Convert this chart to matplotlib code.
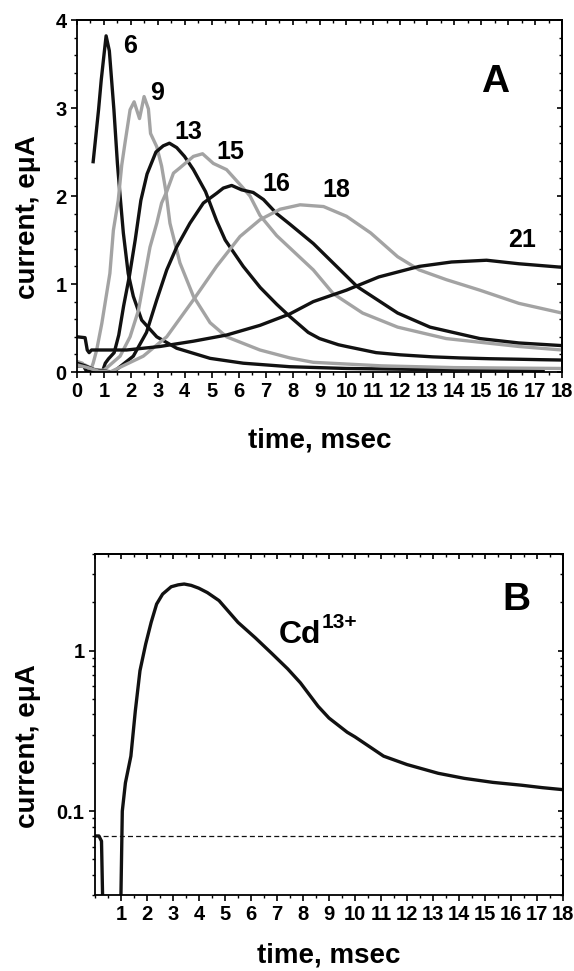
import matplotlib
matplotlib.use("Agg")
import matplotlib.pyplot as plt
from matplotlib.ticker import MultipleLocator, FixedLocator, NullFormatter, LogLocator, FixedFormatter

plt.rcParams['font.family'] = ['Liberation Sans', 'DejaVu Sans']
plt.rcParams['font.weight'] = 'bold'

# ---- data (time in msec, current in e-microamps) ----
t6 = [0.6, 0.8, 0.9, 1.0, 1.08, 1.2, 1.37, 1.5, 1.6, 1.72, 1.9, 2.09, 2.4, 2.96, 3.7, 4.94, 6.17, 7.9, 10.0, 12.5, 15.0, 17.3]
i6 = [2.39, 2.98, 3.32, 3.6, 3.82, 3.65, 2.98, 2.37, 2.0, 1.58, 1.12, 0.86, 0.59, 0.40, 0.27, 0.155, 0.10, 0.06, 0.04, 0.03, 0.025, 0.02]

t9 = [0.0, 0.2, 0.35, 0.48, 0.6, 0.73, 0.92, 1.22, 1.35, 1.53, 1.66, 1.78, 1.97, 2.12, 2.32, 2.49, 2.65, 2.73, 2.96, 3.14, 3.3, 3.45, 3.82, 4.32, 4.94, 5.55, 6.79, 7.9, 8.77, 11.3, 14.0, 18.0]
i9 = [0.12, 0.10, 0.04, 0.0, 0.10, 0.25, 0.55, 1.12, 1.61, 1.95, 2.35, 2.6, 2.98, 3.07, 2.88, 3.13, 2.99, 2.71, 2.56, 2.34, 2.05, 1.69, 1.24, 0.86, 0.56, 0.40, 0.25, 0.16, 0.11, 0.07, 0.05, 0.04]

t13 = [0.0, 0.15, 0.25, 0.35, 0.5, 0.7, 0.95, 1.05, 1.17, 1.38, 1.55, 1.73, 1.95, 2.16, 2.37, 2.6, 2.93, 3.2, 3.43, 3.7, 3.99, 4.32, 4.77, 5.18, 5.5, 6.17, 6.8, 7.41, 7.9, 8.58, 9.0, 9.7, 10.0, 11.1, 12.0, 13.2, 14.2, 15.3, 16.4, 17.2, 18.0]
i13 = [0.07, 0.07, 0.065, 0.01, 0.005, 0.005, 0.01, 0.10, 0.15, 0.22, 0.42, 0.75, 1.1, 1.5, 1.95, 2.25, 2.5, 2.57, 2.6, 2.55, 2.45, 2.3, 2.05, 1.72, 1.5, 1.2, 0.96, 0.77, 0.63, 0.45, 0.38, 0.31, 0.29, 0.22, 0.195, 0.172, 0.16, 0.151, 0.145, 0.14, 0.136]

t15 = [0.0, 0.3, 0.6, 1.0, 1.6, 1.97, 2.28, 2.53, 2.71, 2.96, 3.14, 3.33, 3.58, 3.82, 4.32, 4.66, 5.06, 5.55, 6.11, 6.42, 6.79, 7.41, 8.77, 9.51, 10.6, 11.9, 13.7, 16.4, 18.0]
i15 = [0.10, 0.08, 0.03, 0.02, 0.18, 0.40, 0.70, 1.12, 1.42, 1.69, 1.92, 2.05, 2.26, 2.32, 2.45, 2.48, 2.37, 2.30, 2.11, 2.0, 1.78, 1.55, 1.16, 0.89, 0.67, 0.51, 0.38, 0.29, 0.25]

t16 = [0.0, 0.3, 0.7, 1.35, 2.09, 2.58, 2.96, 3.33, 3.70, 4.19, 4.69, 5.18, 5.43, 5.74, 6.11, 6.54, 6.92, 7.41, 7.9, 8.77, 10.4, 11.9, 13.1, 14.95, 16.4, 18.0]
i16 = [0.10, 0.07, 0.02, 0.0, 0.18, 0.45, 0.82, 1.16, 1.42, 1.69, 1.92, 2.03, 2.09, 2.12, 2.07, 2.04, 1.96, 1.80, 1.68, 1.46, 0.97, 0.67, 0.51, 0.38, 0.33, 0.30]

t18 = [0.0, 0.4, 0.8, 1.23, 2.46, 3.33, 4.32, 5.18, 6.05, 6.79, 7.54, 8.28, 9.15, 10.0, 10.9, 11.9, 12.7, 13.7, 14.95, 16.4, 18.0]
i18 = [0.08, 0.05, 0.01, 0.0, 0.18, 0.40, 0.82, 1.20, 1.54, 1.73, 1.85, 1.90, 1.88, 1.77, 1.58, 1.31, 1.16, 1.05, 0.93, 0.78, 0.67]

t21 = [0.0, 0.3, 0.38, 0.45, 0.54, 1.84, 3.08, 4.32, 5.55, 6.79, 7.9, 8.77, 10.0, 11.2, 12.7, 13.9, 15.2, 16.4, 18.0]
i21 = [0.40, 0.39, 0.25, 0.22, 0.25, 0.25, 0.29, 0.35, 0.42, 0.53, 0.66, 0.80, 0.93, 1.08, 1.20, 1.25, 1.27, 1.23, 1.19]

charge_labels = ["6", "9", "13", "15", "16", "18", "21"]
label_pos = [(1.97, 3.70), (2.96, 3.17), (4.13, 2.73), (5.68, 2.50), (7.4, 2.14), (9.64, 2.07), (16.5, 1.5)]

baseline_B = 0.07

xticks_A = list(range(0, 19))
xticks_B = list(range(1, 19))

BLACK = '#111111'
GRAY = '#a3a3a3'
LW = 2.4

fig = plt.figure(figsize=(5.74, 9.71), dpi=100)
axA = fig.add_axes([77/574, 1-372/971, (562-77)/574, (372-20)/971])
axB = fig.add_axes([95/574, 1-895/971, (563-95)/574, (895-554)/971])

series = [(t6, i6, BLACK), (t9, i9, GRAY), (t13, i13, BLACK), (t15, i15, GRAY),
          (t16, i16, BLACK), (t18, i18, GRAY), (t21, i21, BLACK)]
for t, i, c in series:
    axA.plot(t, i, color=c, lw=LW, solid_joinstyle='round')

for lab, (x, y) in zip(charge_labels, label_pos):
    axA.text(x, y, lab, fontsize=18, fontweight='bold', ha='center', va='center')
axA.text(15.5, 3.30, "A", fontsize=28, fontweight='bold', ha='center', va='center')

axA.set_xlim(0, 18)
axA.set_ylim(0, 4)
axA.xaxis.set_major_locator(FixedLocator(xticks_A))
axA.xaxis.set_minor_locator(MultipleLocator(0.5))
axA.yaxis.set_major_locator(MultipleLocator(1))
axA.yaxis.set_minor_locator(MultipleLocator(0.2))

# panel B
axB.plot(t13, i13, color=BLACK, lw=LW, solid_joinstyle='round')
axB.axhline(baseline_B, color=BLACK, lw=0.9, ls=(0, (4, 2.5)))
axB.set_yscale('log')
axB.set_xlim(0, 18)
axB.set_ylim(0.03, 4)
axB.xaxis.set_major_locator(FixedLocator(xticks_B))
axB.xaxis.set_minor_locator(MultipleLocator(0.5))
axB.yaxis.set_major_locator(FixedLocator([0.1, 1]))
axB.yaxis.set_major_formatter(FixedFormatter(["0.1", "1"]))
axB.yaxis.set_minor_locator(LogLocator(base=10, subs=range(2, 10)))
axB.yaxis.set_minor_formatter(NullFormatter())
axB.text(16.2, 2.07, "B", fontsize=28, fontweight='bold', ha='center', va='center')
cd = axB.text(7.9, 1.25, "Cd", fontsize=23, fontweight='bold', ha='center', va='center')
axB.annotate("13+", xy=(1.0, 0.92), xycoords=cd, fontsize=15, fontweight='bold',
             ha='left', va='center')

for ax, ylab_y, xlab_y, ylab_x in [(axA, 0.44, -0.196, -0.101), (axB, 0.437, -0.176, -0.143)]:
    for sp in ax.spines.values():
        sp.set_linewidth(1.3)
    ax.tick_params(axis='both', which='major', direction='out', length=4.5, width=1.2,
                   labelsize=14.5, top=False, right=False, pad=3)
    ax.tick_params(axis='both', which='minor', direction='out', length=2.5, width=1.0,
                   top=False, right=False)
    for lab in ax.get_xticklabels() + ax.get_yticklabels():
        lab.set_fontweight('bold')
    ax.set_xlabel("time, msec", fontsize=20, fontweight='bold')
    ax.set_ylabel("current, eμA", fontsize=20, fontweight='bold')
    ax.xaxis.label.set_va('center')
    ax.yaxis.label.set_va('center')
    ax.xaxis.set_label_coords(0.5, xlab_y)
    ax.yaxis.set_label_coords(ylab_x, ylab_y)

    sx = ax.secondary_xaxis('top')
    sx.xaxis.set_major_locator(MultipleLocator(1))
    sx.xaxis.set_minor_locator(MultipleLocator(0.5))
    sx.tick_params(axis='x', which='major', direction='in', length=3.5, width=1.2, labeltop=False)
    sx.tick_params(axis='x', which='minor', direction='in', length=2.2, width=1.0)
    sx.xaxis.set_major_formatter(NullFormatter())

    sy = ax.secondary_yaxis('right')
    sy.tick_params(axis='y', which='major', direction='in', length=3.5, width=1.2, labelright=False)
    sy.tick_params(axis='y', which='minor', direction='in', length=2.2, width=1.0)
    sy.yaxis.set_major_formatter(NullFormatter())
    sy.yaxis.set_minor_formatter(NullFormatter())
    if ax is axA:
        sy.yaxis.set_major_locator(MultipleLocator(1))
        sy.yaxis.set_minor_locator(MultipleLocator(0.2))
    else:
        sy.yaxis.set_major_locator(FixedLocator([0.1, 1]))
        sy.yaxis.set_minor_locator(LogLocator(base=10, subs=range(2, 10)))
    for s in (sx, sy):
        for sp in s.spines.values():
            sp.set_linewidth(1.3)

fig.savefig("out.png", dpi=100)
